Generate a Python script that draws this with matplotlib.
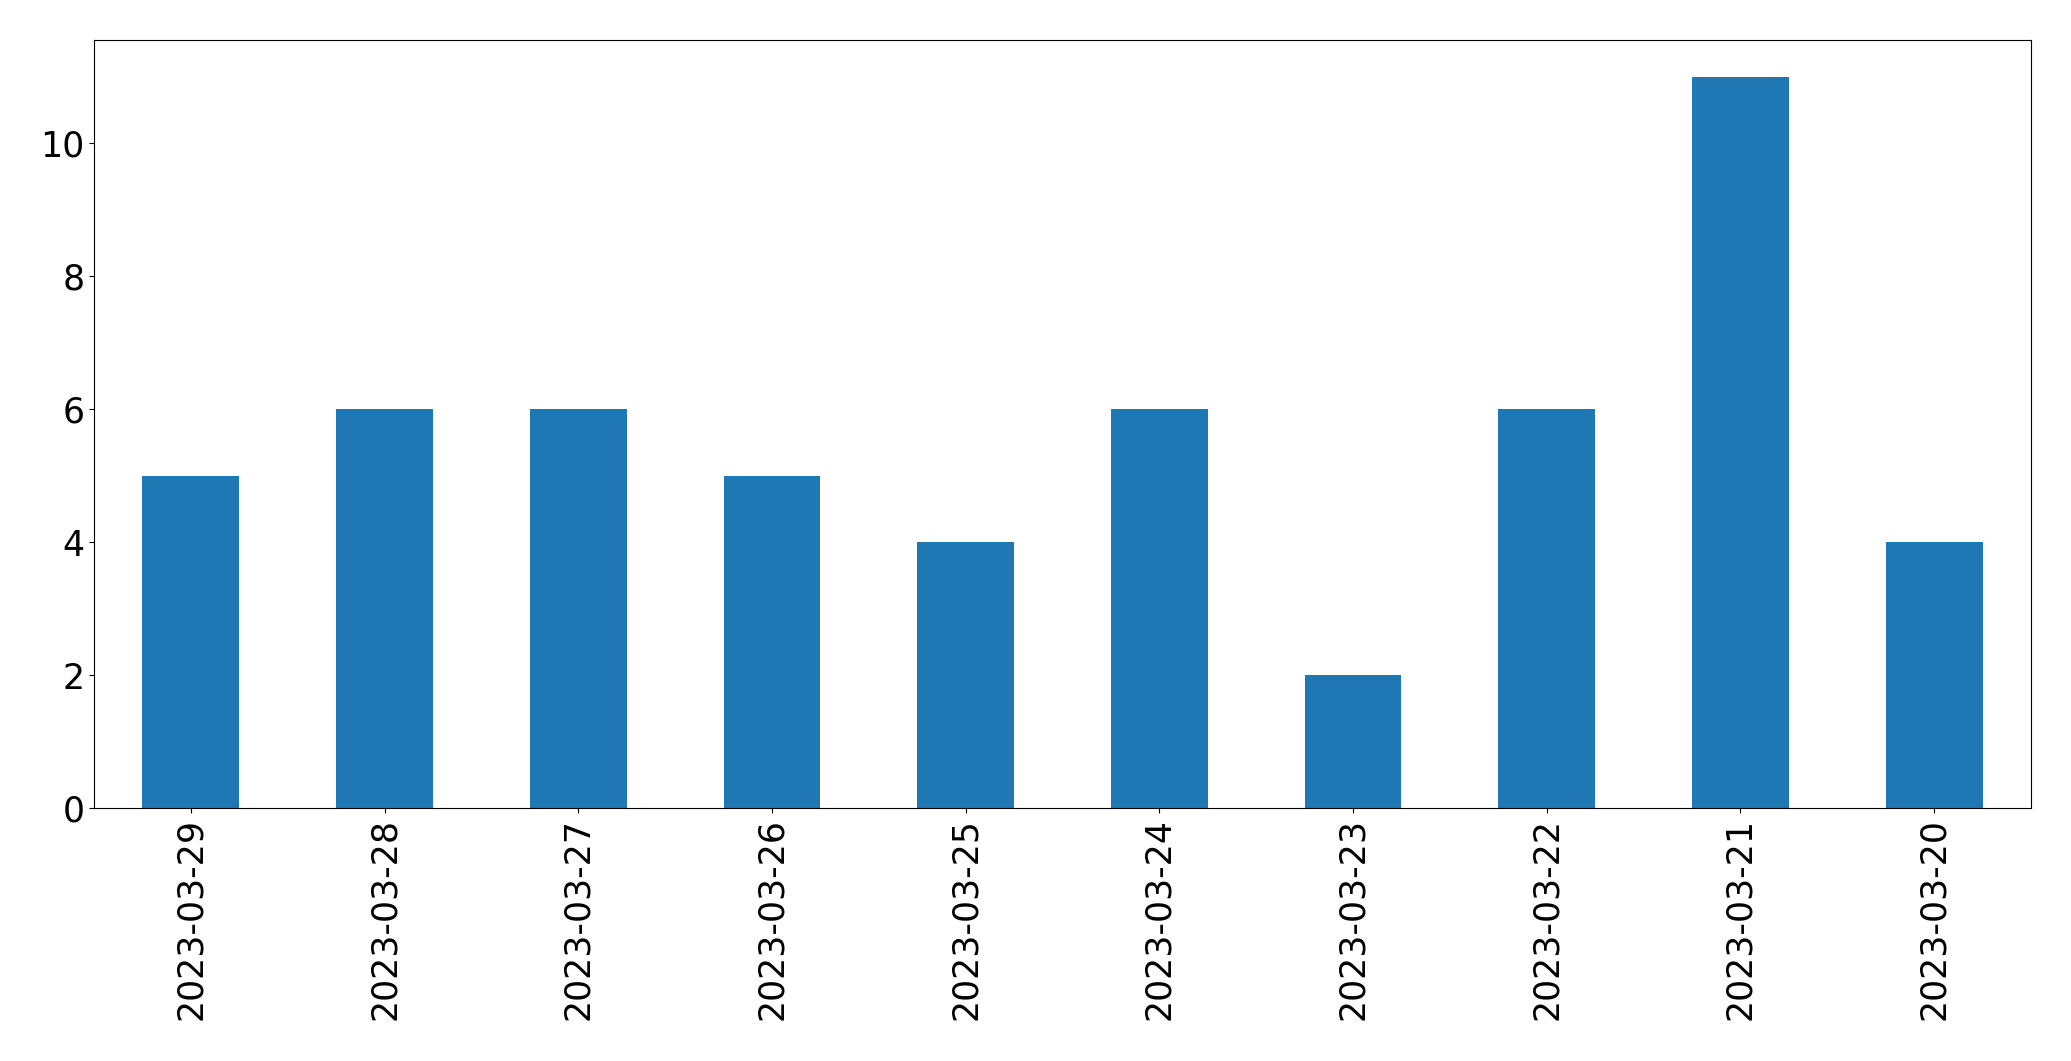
import matplotlib
matplotlib.use("Agg")
import matplotlib.pyplot as plt

dates = ["2023-03-29", "2023-03-28", "2023-03-27", "2023-03-26", "2023-03-25",
         "2023-03-24", "2023-03-23", "2023-03-22", "2023-03-21", "2023-03-20"]
counts = [5, 6, 6, 5, 4, 6, 2, 6, 11, 4]

fig = plt.figure(figsize=(20.71, 10.61), dpi=100)
ax = fig.add_axes([94/2071, 1-808/1061, (2031-94)/2071, (808-40)/1061])
x = list(range(len(dates)))
ax.bar(x, counts, width=0.5, color="#1f77b4")
ax.set_xlim(-0.5, len(dates) - 0.5)
ax.set_xticks(x)
ax.set_xticklabels(dates, rotation=90)
ax.tick_params(labelsize=25)
fig.savefig("out.png", dpi=100)
